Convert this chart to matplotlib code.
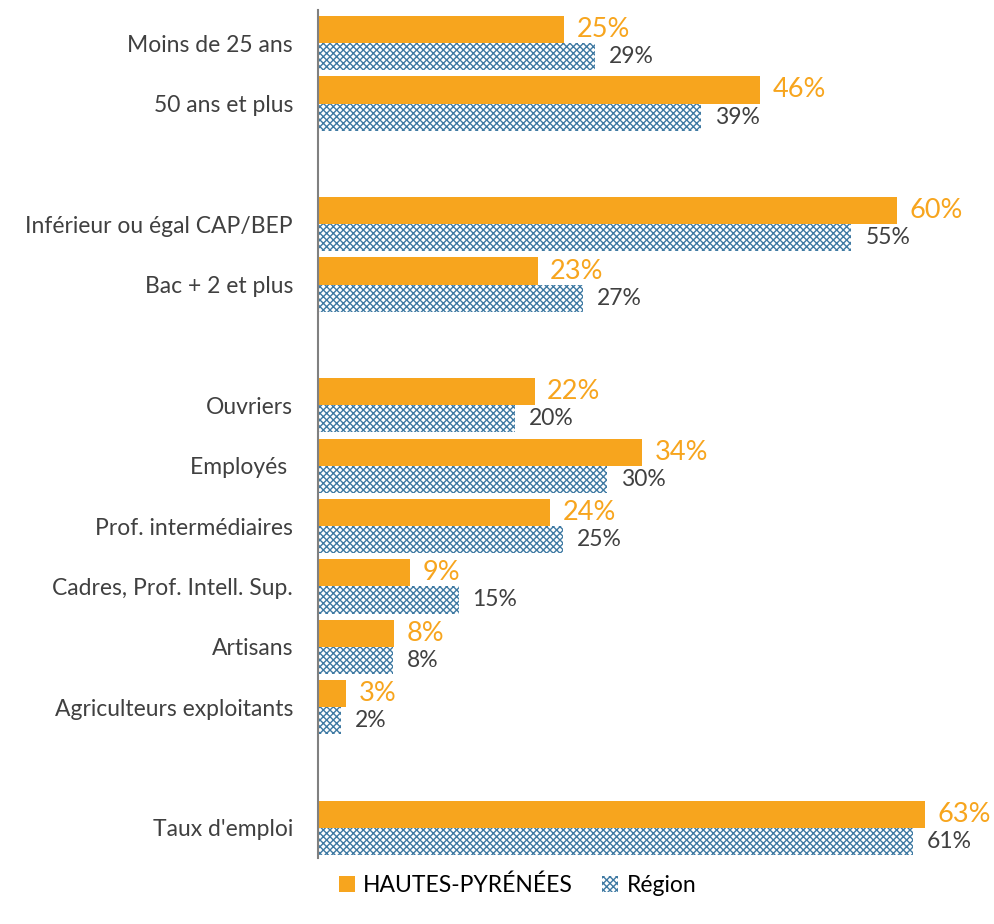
import numpy as np
import matplotlib.pyplot as plt
import matplotlib.patches as mpatches

plt.rcParams['font.family'] = ['Lato', 'DejaVu Sans']
plt.rcParams['hatch.color'] = '#3f7aa3'
plt.rcParams['hatch.linewidth'] = 1.0

#data (blank strings = gaps between groups)
categories = ['Moins de 25 ans', '50 ans et plus', '',
              'Inférieur ou égal CAP/BEP', 'Bac + 2 et plus', '',
              'Ouvriers', 'Employés ', 'Prof. intermédiaires',
              'Cadres, Prof. Intell. Sup.', 'Artisans', 'Agriculteurs exploitants', '',
              "Taux d'emploi"]
hp_vals = [25.6, 45.9, None, 60.1, 22.8, None, 22.5, 33.7, 24.1, 9.6, 7.9, 2.9, None, 63.0]
reg_vals = [28.8, 39.8, None, 55.4, 27.5, None, 20.5, 30.0, 25.4, 14.6, 7.8, 2.4, None, 61.8]
hp_labels = ['25%', '46%', '', '60%', '23%', '', '22%', '34%', '24%', '9%', '8%', '3%', '', '63%']
reg_labels = ['29%', '39%', '', '55%', '27%', '', '20%', '30%', '25%', '15%', '8%', '2%', '', '61%']

orange = '#F7A51E'
gray_txt = '#404040'

fig = plt.figure(figsize=(9.95, 9.24), dpi=100)
ax = fig.add_axes([0.3196, 0.0714, 0.6774, 0.9178])

h = 0.45
y = np.arange(len(categories))
for i in range(len(categories)):
    if hp_vals[i] is None:
        continue
    ax.barh(y[i] - h/2, hp_vals[i], height=h, color=orange, edgecolor='none')
    ax.barh(y[i] + h/2, reg_vals[i], height=h, facecolor='white',
            edgecolor='#3f7aa3', hatch='xxxxx', linewidth=0)
    ax.annotate(hp_labels[i], (hp_vals[i], y[i] - h/2), xytext=(9, 0),
                textcoords='offset points', va='center', ha='left',
                color=orange, fontsize=19.5)
    ax.annotate(reg_labels[i], (reg_vals[i], y[i] + h/2), xytext=(10, 0),
                textcoords='offset points', va='center', ha='left',
                color=gray_txt, fontsize=16.5)

ax.set_xlim(0, 70)
ax.set_ylim(13.5, -0.55)
ax.set_yticks(y)
ax.set_yticklabels(categories, fontsize=16.5, color=gray_txt)
ax.tick_params(axis='y', length=0, pad=18)
ax.set_xticks([])
for s in ['top', 'right', 'bottom']:
    ax.spines[s].set_visible(False)
ax.spines['left'].set_color('#808080')
ax.spines['left'].set_linewidth(1.5)

handles = [mpatches.Patch(facecolor=orange, edgecolor='none', label='HAUTES-PYRÉNÉES'),
           mpatches.Patch(facecolor='white', edgecolor='#3f7aa3', hatch='xxxxx',
                          linewidth=0, label='Région')]
fig.legend(handles=handles, loc='center', bbox_to_anchor=(0.52, 0.042), ncol=2,
           frameon=False, fontsize=16.5, handlelength=0.7, handleheight=0.7,
           handletextpad=0.35, columnspacing=1.3)

plt.savefig('out.png', dpi=100)
